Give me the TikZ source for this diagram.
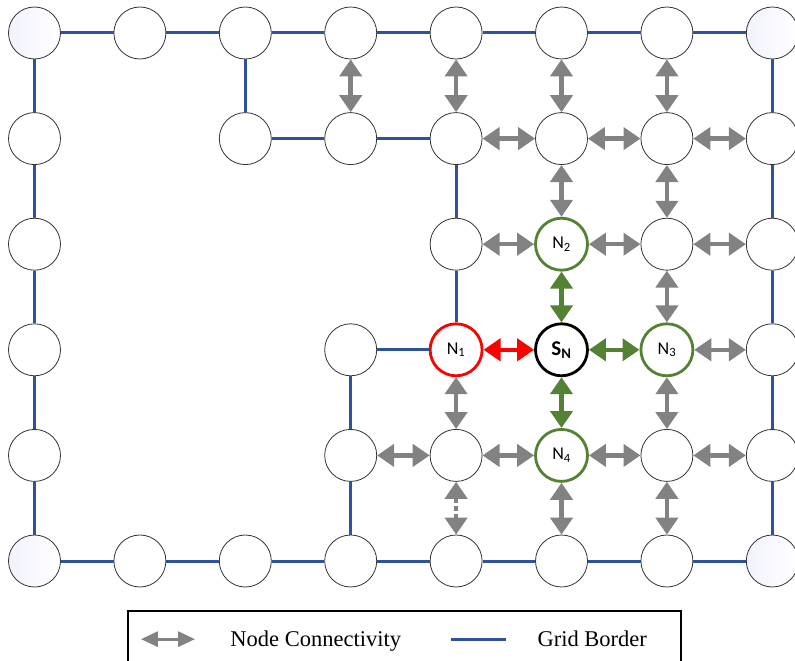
\documentclass[tikz,border=0pt]{standalone}
\usepackage{fontspec}
\setmainfont{Liberation Serif}
\newfontfamily\lblfont{Carlito}
\usetikzlibrary{arrows.meta}

\definecolor{gridblue}{HTML}{2F529E}
\definecolor{linkgray}{HTML}{828282}
\definecolor{nbrgreen}{HTML}{548235}

\tikzset{
  cell/.style={circle, draw=black!80, line width=0.8pt, fill=white,
    minimum size=52pt, inner sep=0pt, font=\lblfont\fontsize{18}{21}\selectfont},
  corner/.style={cell, left color=blue!5!white, right color=white},
  nbr/.style={cell, draw=nbrgreen, line width=2.8pt},
  lost/.style={cell, draw=red, line width=2.8pt},
  sink/.style={cell, draw=black, line width=2.8pt,
    font=\lblfont\bfseries\fontsize{21}{24}\selectfont},
  border/.style={gridblue, line width=3pt},
  link/.style={linkgray, line width=4.5pt,
    {Triangle[width=22pt,length=17pt]}-{Triangle[width=22pt,length=17pt]}},
  legtext/.style={anchor=base west, font=\fontsize{22.5}{26}\selectfont},
}

\begin{document}
\begin{tikzpicture}[x=105.4pt, y=-105.6pt]
  \useasboundingbox (-34.5pt,33pt) rectangle (760.5pt,-628pt);
  \clip (-34.5pt,33pt) rectangle (760.5pt,-628pt);

  % Plain grid nodes
  \foreach \c/\r in {1/0,2/0,3/0,4/0,5/0,6/0,
                     0/1,2/1,3/1,4/1,5/1,6/1,7/1,
                     0/2,4/2,6/2,7/2,
                     0/3,3/3,7/3,
                     0/4,3/4,4/4,6/4,7/4,
                     1/5,2/5,3/5,4/5,5/5,6/5}
    \node[cell] (n-\c-\r) at (\c,\r) {};
  \foreach \c/\r in {0/0,7/0,0/5,7/5}
    \node[corner] (n-\c-\r) at (\c,\r) {};

  % Sink and its neighbours
  \node[sink] (n-5-3) at (5,3) {S\textsubscript{N}};
  \node[lost] (n-4-3) at (4,3) {N\textsubscript{1}};
  \node[nbr]  (n-5-2) at (5,2) {N\textsubscript{2}};
  \node[nbr]  (n-6-3) at (6,3) {N\textsubscript{3}};
  \node[nbr]  (n-5-4) at (5,4) {N\textsubscript{4}};

  % Grid border
  \foreach \a/\b in {0-0/1-0,1-0/2-0,2-0/3-0,3-0/4-0,4-0/5-0,5-0/6-0,6-0/7-0,
                     0-0/0-1,0-1/0-2,0-2/0-3,0-3/0-4,0-4/0-5,
                     7-0/7-1,7-1/7-2,7-2/7-3,7-3/7-4,7-4/7-5,
                     0-5/1-5,1-5/2-5,2-5/3-5,3-5/4-5,4-5/5-5,5-5/6-5,6-5/7-5,
                     2-0/2-1,2-1/3-1,3-1/4-1,4-1/4-2,4-2/4-3,
                     3-3/4-3,3-3/3-4,3-4/3-5}
    \draw[border] (n-\a) -- (n-\b);

  % Node connectivity
  \foreach \a/\b in {3-0/3-1,4-0/4-1,5-0/5-1,6-0/6-1,
                     4-1/5-1,5-1/6-1,6-1/7-1,
                     5-1/5-2,6-1/6-2,
                     4-2/5-2,5-2/6-2,6-2/7-2,
                     6-2/6-3,6-3/7-3,
                     4-3/4-4,6-3/6-4,
                     3-4/4-4,4-4/5-4,5-4/6-4,6-4/7-4,
                     5-4/5-5,6-4/6-5}
    \draw[link] (n-\a) -- (n-\b);
  \draw[link, dash pattern=on 5pt off 3pt] (n-4-4) -- (n-4-5);

  % Links of the sink
  \draw[link, red] (n-4-3) -- (n-5-3);
  \draw[link, nbrgreen] (n-5-2) -- (n-5-3);
  \draw[link, nbrgreen] (n-5-3) -- (n-6-3);
  \draw[link, nbrgreen] (n-5-3) -- (n-5-4);

  % Legend
  \draw[line width=2pt] (0.887,5.473) rectangle (6.134,6.2);
  \coordinate (la) at (1.010,5.74);
  \coordinate (lb) at (1.523,5.74);
  \draw[linkgray, line width=3pt,
    {Triangle[width=15pt,length=17pt]}-{Triangle[width=15pt,length=17pt]}] (la) -- (lb);
  \node[legtext] (leg-link) at (1.826,5.814) {Node Connectivity};
  \coordinate (lc) at (3.952,5.74);
  \coordinate (ld) at (4.473,5.74);
  \draw[border] (lc) -- (ld);
  \node[legtext] (leg-border) at (4.739,5.814) {Grid Border};
\end{tikzpicture}
\end{document}
